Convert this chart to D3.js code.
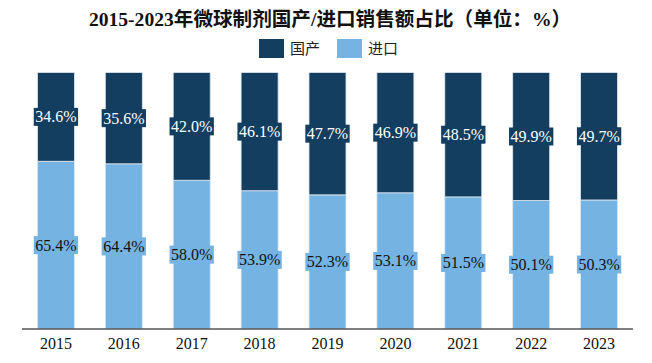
<!DOCTYPE html>
<html>
<head>
<meta charset="utf-8">
<script src="https://cdn.jsdelivr.net/npm/d3@7"></script>
<style>
	body { margin: 0; background: #fff; }
	svg { display: block; }
</style>
</head>
<body>
<div id="chart"></div>
<script>
//Chart data
const years = ['2015','2016','2017','2018','2019','2020','2021','2022','2023'];
const domestic = [34.6, 35.6, 42.0, 46.1, 47.7, 46.9, 48.5, 49.9, 49.7];
const imported = [65.4, 64.4, 58.0, 53.9, 52.3, 53.1, 51.5, 50.1, 50.3];
const seriesNames = ['国产', '进口'];
const colors = ['#143e60', '#74b3e2'];
const labelColors = ['#ffffff', '#111111'];

const w = 652, h = 363;
const serif = '"Liberation Serif", "Times New Roman", "Noto Sans CJK SC", serif';

const plot = d3.select('#chart').append('svg')
	.attr('width', w)
	.attr('height', h);

//Title
plot.append('text')
	.attr('x', 330)
	.attr('y', 26)
	.attr('text-anchor', 'middle')
	.style('font-family', serif)
	.style('font-weight', 'bold')
	.style('font-size', '19.6px')
	.style('fill', '#111')
	.text('2015-2023年微球制剂国产/进口销售额占比（单位：%）');

//Legend
const legendX = [259, 337];
seriesNames.forEach(function(name, i){
	const g = plot.append('g').attr('transform', `translate(${legendX[i]},39)`);
	g.append('rect')
		.attr('width', 25)
		.attr('height', 19)
		.style('fill', colors[i]);
	g.append('text')
		.attr('x', 31)
		.attr('y', 15)
		.style('font-family', serif)
		.style('font-size', '15px')
		.style('fill', '#222')
		.text(name);
});

//Scales
const x = d3.scaleBand()
	.domain(years)
	.range([22, 633])
	.paddingInner(0.455)
	.paddingOuter(0.227);

const y = d3.scaleLinear()
	.domain([0, 100])
	.range([329, 72.5]);

//Stack
const table = years.map(function(yr, i){
	return { year: yr, '进口': imported[i], '国产': domestic[i] };
});
const stack = d3.stack().keys(['进口', '国产']);
const layers = stack(table);

layers.forEach(function(layer){
	const idx = seriesNames.indexOf(layer.key);
	plot.selectAll('.bar-' + idx)
		.data(layer)
		.enter()
		.append('rect')
		.attr('class', 'bar-' + idx)
		.attr('x', function(d){ return x(d.data.year); })
		.attr('y', function(d){ return y(d[1]); })
		.attr('width', x.bandwidth())
		.attr('height', function(d){ return y(d[0]) - y(d[1]); })
		.style('fill', colors[idx])
		.style('stroke', '#dfe8f0')
		.style('stroke-width', '0.8px');
});

//Value labels with boxes
layers.forEach(function(layer){
	const idx = seriesNames.indexOf(layer.key);
	layer.forEach(function(d){
		const cx = x(d.data.year) + x.bandwidth() / 2;
		const cy = (y(d[0]) + y(d[1])) / 2;
		const g = plot.append('g');
		const t = g.append('text')
			.attr('x', cx)
			.attr('y', cy + 5.5)
			.attr('text-anchor', 'middle')
			.style('font-family', serif)
			.style('font-size', '16px')
			.style('fill', labelColors[idx])
			.text(d.data[layer.key].toFixed(1) + '%');
		const bb = t.node().getBBox();
		g.insert('rect', 'text')
			.attr('x', bb.x - 1.5)
			.attr('y', cy - 9)
			.attr('width', bb.width + 3)
			.attr('height', 18)
			.style('fill', colors[idx]);
	});
});

//Axis
const xAxis = plot.append('g')
	.attr('transform', 'translate(0,329)')
	.call(d3.axisBottom(x).tickSize(0).tickPadding(9));
xAxis.select('.domain')
	.attr('d', 'M22,0H633')
	.style('stroke', '#555')
	.style('stroke-width', '1.5px');
xAxis.selectAll('text')
	.style('font-family', serif)
	.style('font-size', '16px')
	.style('fill', '#111');
</script>
</body>
</html>
